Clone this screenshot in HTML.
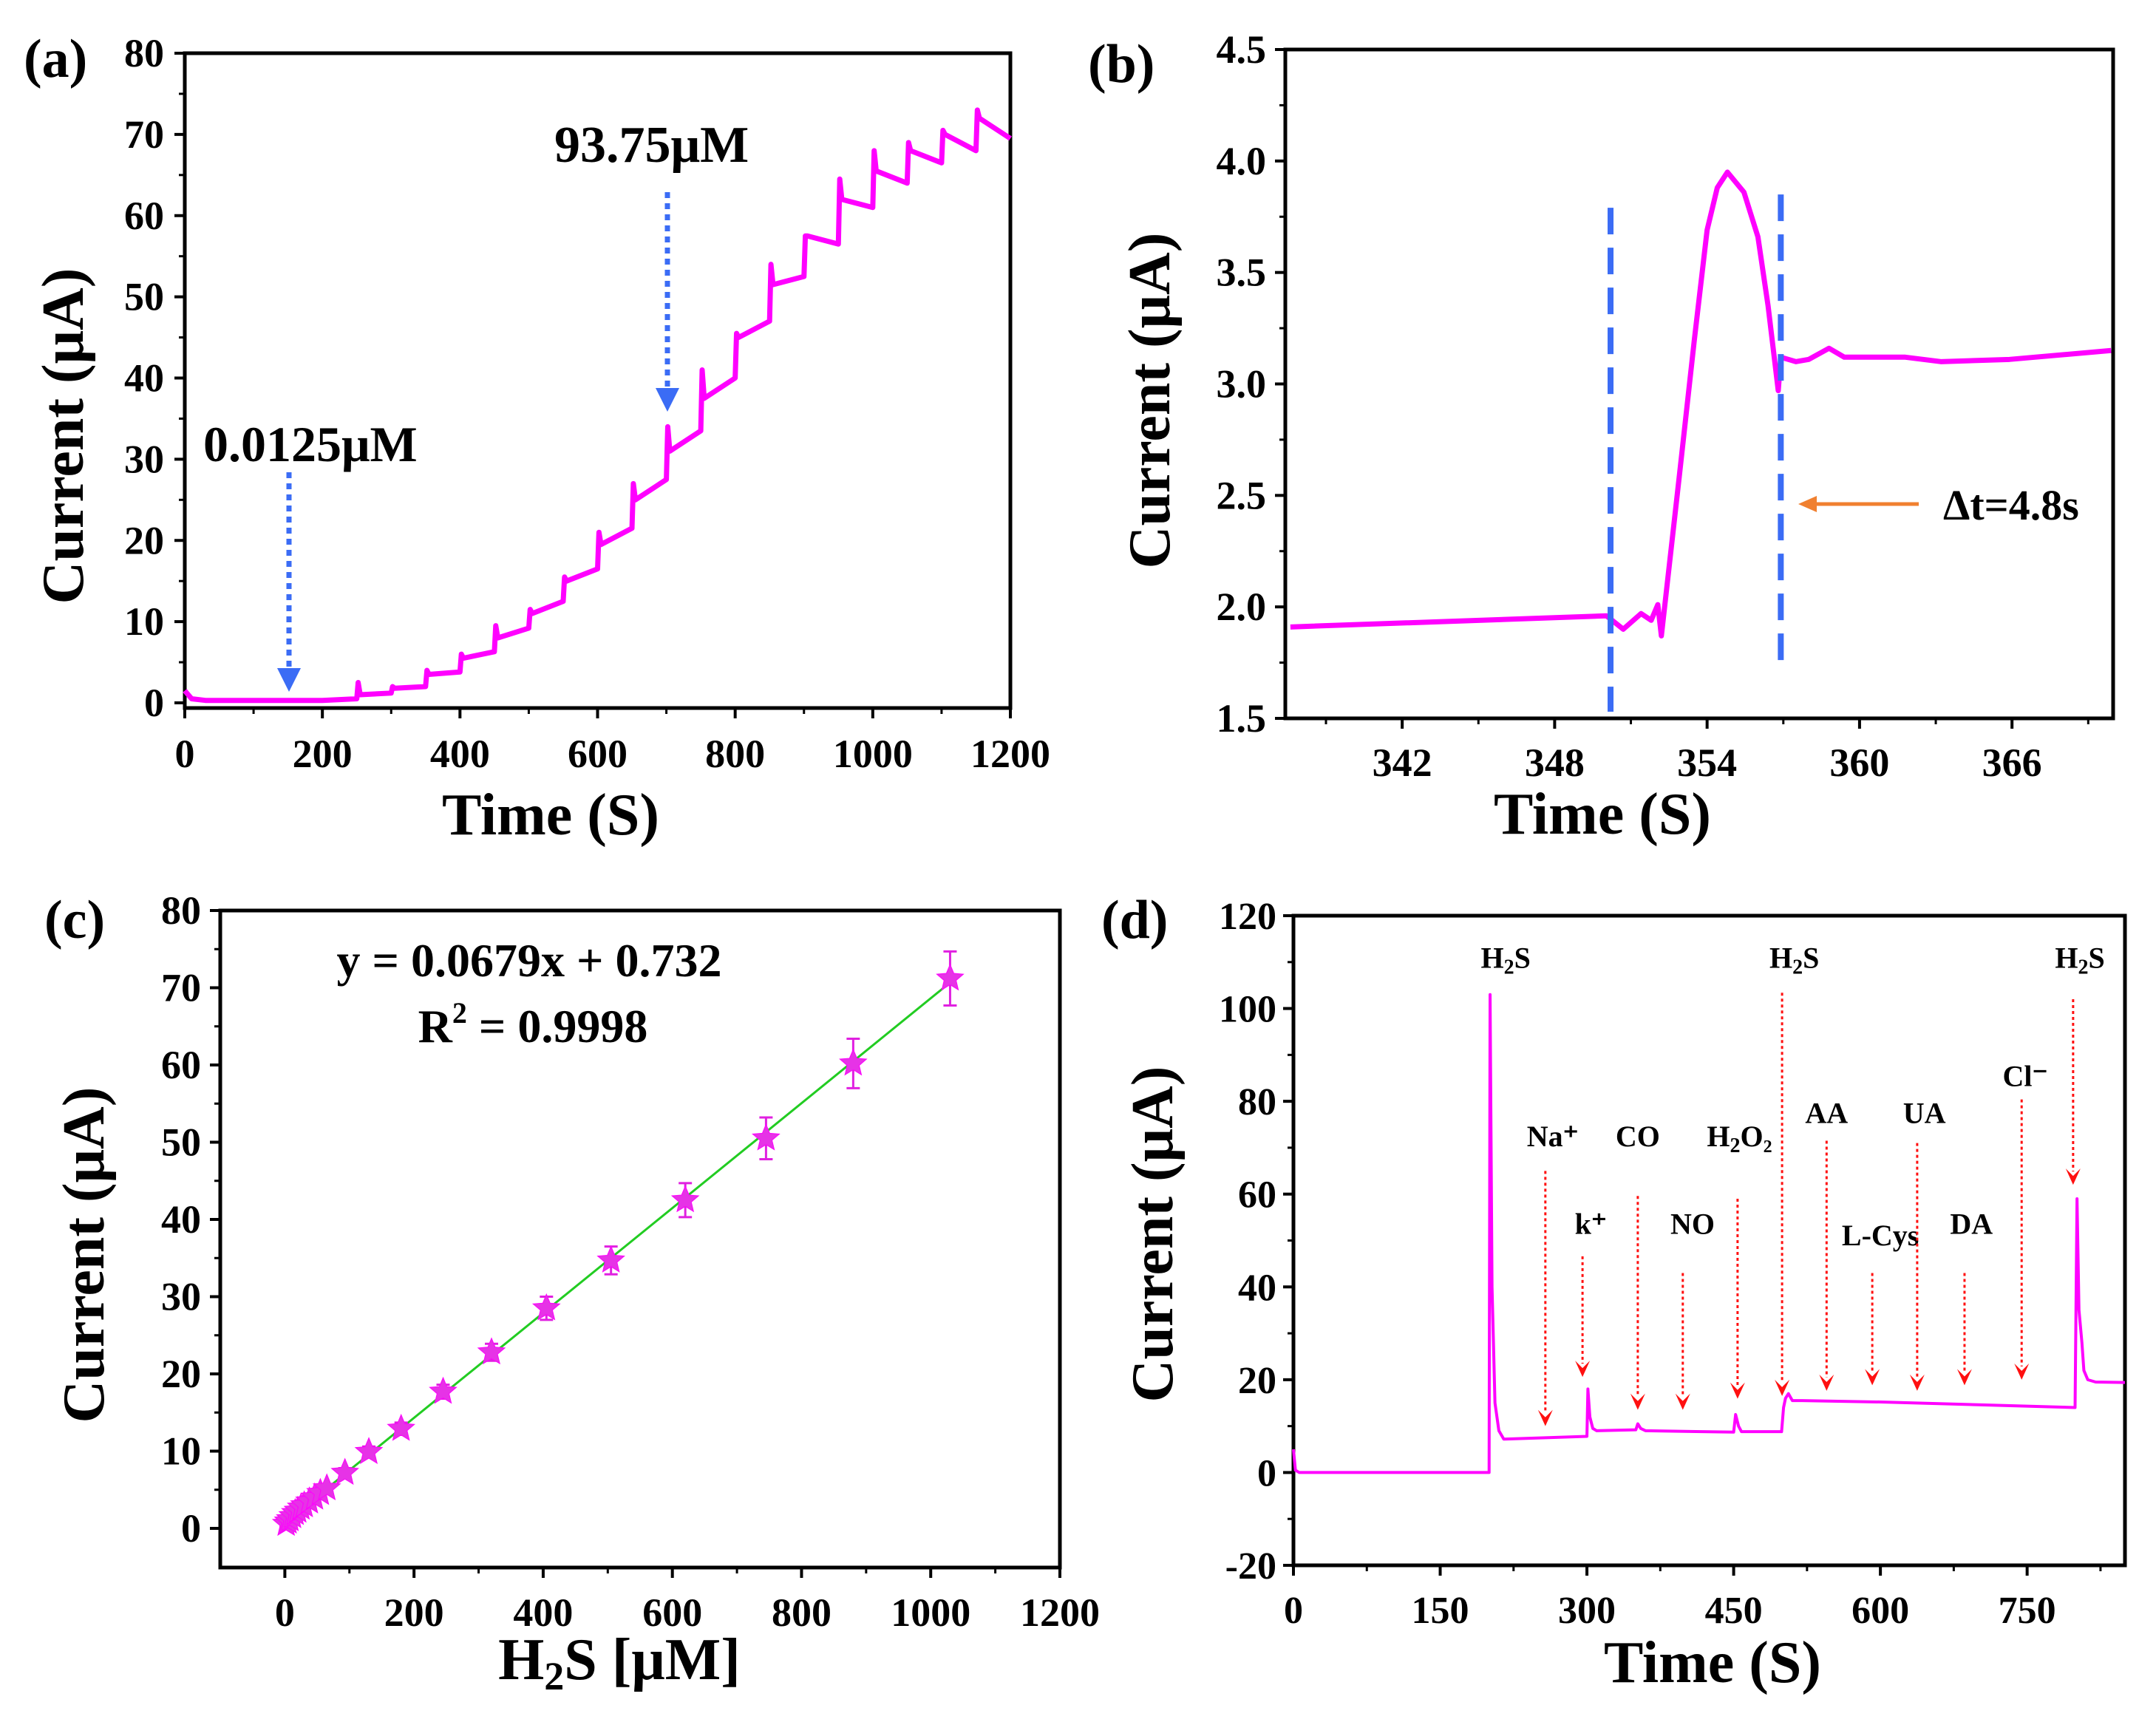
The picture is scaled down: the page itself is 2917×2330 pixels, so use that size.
<!DOCTYPE html>
<html><head><meta charset="utf-8"><style>
html,body{margin:0;padding:0;background:#fff;}
svg{display:block;font-family:"Liberation Serif",serif;font-weight:bold;}
</style></head><body>
<svg id="fig" width="2917" height="2330" viewBox="0 0 2917 2330" xmlns="http://www.w3.org/2000/svg">
</svg>
<script>
// ---------- Panel (a) data ----------
const aStepTimes=[250,300,350,400,450,500,550,600,650,700,750,800,850,900,950,1000,1050,1100,1150];
const aBefore=[0.5,1.2,2,3.8,6.3,9.2,12.5,16.5,21.5,27.5,33.5,40,47,52.5,56.5,61,64,66.5,68];
const aSpike=[2.5,2,4,6,9.5,11.5,15.5,21,27,34,41,45.5,54,57.5,64.5,68,69,70.5,73];
const aAfter=[1,1.8,3.5,5.5,8,11,15,19.5,25,31,37.5,45,51.5,57.5,62,65.5,68,70,72];
const aStart=[1.5,0.5,0.3,0.3]; const aStartT=[0,10,30,200];
const aEndT=1200, aEndV=69.5;
const aXTicks=[0,200,400,600,800,1000,1200];
const aYTicks=[0,10,20,30,40,50,60,70,80];
// ---------- Panel (b) data ----------
const bT=[337.6,350.04,350.7,351.4,351.8,352.06,352.2,352.9,353.5,354.0,354.4,354.8,355.45,356.0,356.4,356.8,356.9,357.5,358.0,358.8,359.4,361.8,363.2,365.9,369.9];
const bV=[1.91,1.96,1.90,1.97,1.94,2.01,1.87,2.58,3.2,3.69,3.88,3.95,3.86,3.66,3.35,2.97,3.12,3.10,3.11,3.16,3.12,3.12,3.10,3.11,3.15];
const bXTicks=[342,348,354,360,366];
const bYTicks=[1.5,2.0,2.5,3.0,3.5,4.0,4.5];
const bDash=[350.2,356.9]; const bDashTop=[3.79,3.85]; const bDashBot=[1.53,1.72];
// ---------- Panel (c) data ----------
const cX=[2,5,8,12,16,20,25,30,38,46,55,65,93,130,180,245,320,405,505,620,745,880,1030];
const cY=[0.6,0.9,1.2,1.6,2.0,2.3,2.7,3.0,3.5,4.0,4.6,5.2,7.2,9.9,12.9,17.7,22.8,28.5,34.7,42.5,50.5,60.2,71.2];
const cErr=[0.4,0.4,0.4,0.4,0.4,0.4,0.4,0.4,0.4,0.4,0.5,0.5,0.6,0.7,0.8,0.9,1.1,1.5,1.8,2.2,2.7,3.2,3.5];
const cSlope=0.0679, cIntercept=0.732;
const cXTicks=[0,200,400,600,800,1000,1200];
const cYTicks=[0,10,20,30,40,50,60,70,80];
// ---------- Panel (d) data ----------
const dT=[0,2,6,200,201,203,206,210,215,300,301,303,306,310,350,352,355,360,450,452,455,458,499,501,503,506,510,520,600,700,799,801,803,806,808,812,820,850];
const dV=[5,0.5,0,0,103,40,15,9,7.2,7.8,18,12,9.5,9,9.2,10.5,9.5,9,8.7,12.5,10,8.8,8.8,14,16,17,15.5,15.5,15.2,14.6,14,59,35,28,22,20,19.5,19.4];
const dLabels=["Na⁺","k⁺","CO","NO","H₂O₂","H₂S","AA","L-Cys","UA","DA","Cl⁻","H₂S"];
const dArrowT=[257.5,295.5,352,398,454,499.5,545,591.7,637.6,686,744.4,797];
const dArrowTop=[65,46.6,59.6,43,59,103.4,71.5,43,71,43,80.4,102];
const dArrowTip=[10,20.6,13.5,13.5,15.9,16.5,17.6,18.8,17.6,18.8,20,62];
const dLabelV=[70.3,51.4,70.3,51.4,70.3,108.8,75.3,49,75.3,51.4,83.3,108.8];
const dLabelT=[265,304,352,408,456,512,545,600,645,693,748,804];
const dXTicks=[0,150,300,450,600,750];
const dYTicks=[-20,0,20,40,60,80,100,120];

const NS="http://www.w3.org/2000/svg";
const svg=document.getElementById('fig');
function mk(tag,attrs,parent){const e=document.createElementNS(NS,tag);for(const k in attrs)e.setAttribute(k,attrs[k]);(parent||svg).appendChild(e);return e;}
function lin(d0,d1,r0,r1){return v=>r0+(v-d0)/(d1-d0)*(r1-r0);}

function axes(g,L,R,T,B,sx,sy,xt,yt,xMinor,yMinor,xfmt,yfmt,xLabY,yLabX,fs){
  const box=mk('rect',{x:L,y:T,width:R-L,height:B-T,fill:'none',stroke:'#000','stroke-width':5},g);
  
  
  xt.forEach((v,i)=>{const x=sx(v);
    const t=mk('line',{x1:x,x2:x,y1:B,y2:B+14,stroke:'#000','stroke-width':4},g);
    
    
    const l=mk('text',{x:x,y:xLabY,'font-size':fs,'text-anchor':'middle'},g);l.textContent=xfmt(v);
    
    
    if(i<xt.length-1){const xm=sx(v+(xt[1]-xt[0])/2);
      if(xMinor && xm<R)mk('line',{x1:xm,x2:xm,y1:B,y2:B+8,stroke:'#000','stroke-width':3},g);}
  });
  if(xMinor){const step=xt[1]-xt[0];const xm=sx(xt[0]-step/2);if(xm>L)mk('line',{x1:xm,x2:xm,y1:B,y2:B+8,stroke:'#000','stroke-width':3},g);
    const xe=sx(xt[xt.length-1]+step/2);if(xe<R)mk('line',{x1:xe,x2:xe,y1:B,y2:B+8,stroke:'#000','stroke-width':3},g);}
  yt.forEach((v,i)=>{const y=sy(v);
    const t=mk('line',{x1:L-14,x2:L,y1:y,y2:y,stroke:'#000','stroke-width':4},g);
    
    
    const l=mk('text',{x:yLabX,y:y+18,'font-size':fs,'text-anchor':'end'},g);l.textContent=yfmt(v);
    
    
    if(yMinor&&i<yt.length-1){const ym=sy(v+(yt[1]-yt[0])/2);mk('line',{x1:L-8,x2:L,y1:ym,y2:ym,stroke:'#000','stroke-width':3},g);}
  });
}
function txt(g,x,y,s,fs,anchor,name,extra){const t=mk('text',Object.assign({x:x,y:y,'font-size':fs,'text-anchor':anchor||'start'},extra||{}),g);t.innerHTML=s;
  
  return t;}

// ===== Panel a =====
(function(){
 const g=mk('g',{});
 const L=250,R=1367,T=72,B=958;
 const sx=lin(0,1200,L,R), sy=lin(0,80,951,72);
 axes(g,L,R,T,B,sx,sy,aXTicks,aYTicks,true,true,v=>v,v=>v,1038,222,54);
 let pts=[];aStartT.forEach((t,i)=>pts.push([t,aStart[i]]));
 aStepTimes.forEach((t,i)=>{pts.push([t,aBefore[i]]);pts.push([t+2,aSpike[i]]);pts.push([t+5,aAfter[i]]);});
 pts.push([aEndT,aEndV]);
 const p=mk('polyline',{points:pts.map(q=>sx(q[0])+','+sy(q[1])).join(' '),fill:'none',stroke:'#ff00ff','stroke-width':7,'stroke-linejoin':'round'},g);
 
 [[391,639,936],[903,260,557]].forEach(a=>{
   const l=mk('line',{x1:a[0],x2:a[0],y1:a[1],y2:a[2]-30,stroke:'#3b6cf5','stroke-width':7,'stroke-dasharray':'8 7'},g);
   
   mk('polygon',{points:`${a[0]-16},${a[2]-32} ${a[0]+16},${a[2]-32} ${a[0]},${a[2]}`,fill:'#3b6cf5'},g);
 });
 txt(g,750,219,'93.75μM',70,'start','label-93-75uM');
 txt(g,275,624,'0.0125μM',68,'start','label-0-0125uM');
 txt(g,32,104,'(a)',74,'start','panel-label-a');
 txt(g,745,1129,'Time (S)',80,'middle','x-axis-title');
 txt(g,0,0,'Current (μA)',80,'middle','y-axis-title',{transform:'translate(112,590) rotate(-90)'});
})();

// ===== Panel b =====
(function(){
 const g=mk('g',{});
 const L=1739,R=2859,T=67,B=972;
 const sx=lin(337.4,369.98,L,R), sy=lin(1.5,4.5,B,T);
 axes(g,L,R,T,B,sx,sy,bXTicks,bYTicks,true,true,v=>v,v=>v.toFixed(1),1050,1713,54);
 const p=mk('polyline',{points:bT.map((t,i)=>sx(t)+','+sy(bV[i])).join(' '),fill:'none',stroke:'#ff00ff','stroke-width':7,'stroke-linejoin':'round'},g);
 
 bDash.forEach((t,i)=>{const l=mk('line',{x1:sx(t),x2:sx(t),y1:sy(bDashTop[i]),y2:sy(bDashBot[i]),stroke:'#3b6cf5','stroke-width':8,'stroke-dasharray':'36 18'},g);
   });
 const ar=mk('line',{x1:2596,x2:2450,y1:682,y2:682,stroke:'#f08030','stroke-width':5},g);
 
 mk('polygon',{points:'2433,682 2458,671 2458,693',fill:'#f08030'},g);
 txt(g,2629,703,'Δt=4.8s',58,'start','delta-t-label');
 txt(g,1472,111,'(b)',74,'start','panel-label-b');
 txt(g,2168,1128,'Time (S)',80,'middle','x-axis-title');
 txt(g,0,0,'Current (μA)',80,'middle','y-axis-title',{transform:'translate(1582,542) rotate(-90)'});
})();

// ===== Panel c =====
(function(){
 const g=mk('g',{});
 const L=298,R=1434,T=1232,B=2121;
 const sx=lin(-100,1200,L,R), sy=lin(0,80,2068,1232);
 axes(g,L,R,T,B,sx,sy,cXTicks,cYTicks,true,true,v=>v,v=>v,2200,272,54);
 const fl=mk('line',{x1:sx(0),y1:sy(cIntercept),x2:sx(1030),y2:sy(cIntercept+cSlope*1030),stroke:'#22cc22','stroke-width':3},g);
 
 function star(cx,cy,r){let s=[];for(let k=0;k<10;k++){const a=-Math.PI/2+k*Math.PI/5;const rr=k%2?r*0.45:r;s.push((cx+rr*Math.cos(a)).toFixed(1)+','+(cy+rr*Math.sin(a)).toFixed(1));}return s.join(' ');}
 cX.forEach((x,i)=>{const X=sx(x),Y=sy(cY[i]),e=cErr[i]*10.45;
   const eb=mk('path',{d:`M${X},${Y-e}V${Y+e}M${X-9},${Y-e}H${X+9}M${X-9},${Y+e}H${X+9}`,stroke:'#e020e0','stroke-width':3,fill:'none'},g);
   
   const s=mk('polygon',{points:star(X,Y,19),fill:'#e633e6',stroke:'#ff00ff','stroke-width':1},g);
   });
 txt(g,716,1321,'y = 0.0679x + 0.732',64,'middle','fit-equation');
 txt(g,721,1410,'R<tspan font-size="40" dy="-26">2</tspan><tspan dy="26"> = 0.9998</tspan>',64,'middle','r-squared');
 txt(g,60,1269,'(c)',74,'start','panel-label-c');
 txt(g,838,2272,'H<tspan font-size="54" dy="14">2</tspan><tspan dy="-14">S [μM]</tspan>',80,'middle','x-axis-title');
 txt(g,0,0,'Current (μA)',80,'middle','y-axis-title',{transform:'translate(140,1698) rotate(-90)'});
})();

// ===== Panel d =====
(function(){
 const g=mk('g',{});
 const L=1750,R=2875,T=1239,B=2118;
 const sx=lin(0,850,L,R), sy=lin(-20,120,B,T);
 axes(g,L,R,T,B,sx,sy,dXTicks,dYTicks,true,true,v=>v,v=>v,2196,1727,52);
 const p=mk('polyline',{points:dT.map((t,i)=>sx(t)+','+sy(dV[i])).join(' '),fill:'none',stroke:'#ff00ff','stroke-width':4,'stroke-linejoin':'round'},g);
 
 dArrowT.forEach((t,i)=>{const X=sx(t),y1=sy(dArrowTop[i]),y2=sy(dArrowTip[i]);
   const l=mk('line',{x1:X,x2:X,y1:y1,y2:y2-18,stroke:'#ff1010','stroke-width':3,'stroke-dasharray':'4 4'},g);
   
   mk('path',{d:`M${X-10},${y2-22}L${X},${y2}L${X+10},${y2-22}L${X},${y2-12}Z`,fill:'#ff1010'},g);
   let lab=dLabels[i].replace('₂','<tspan font-size="28" dy="8">2</tspan><tspan dy="-8">').replace(/(<tspan dy="-8">)(.*)$/,'$1$2</tspan>');
   txt(g,sx(dLabelT[i]),sy(dLabelV[i]),lab,40,'middle','interferent-label');
 });
 txt(g,sx(217),sy(108.8),'H<tspan font-size="28" dy="8">2</tspan><tspan dy="-8">S</tspan>',40,'middle','interferent-label');
 txt(g,1490,1269,'(d)',74,'start','panel-label-d');
 txt(g,2317,2276,'Time (S)',80,'middle','x-axis-title');
 txt(g,0,0,'Current (μA)',80,'middle','y-axis-title',{transform:'translate(1586,1670) rotate(-90)'});
})();
</script>
</body></html>
